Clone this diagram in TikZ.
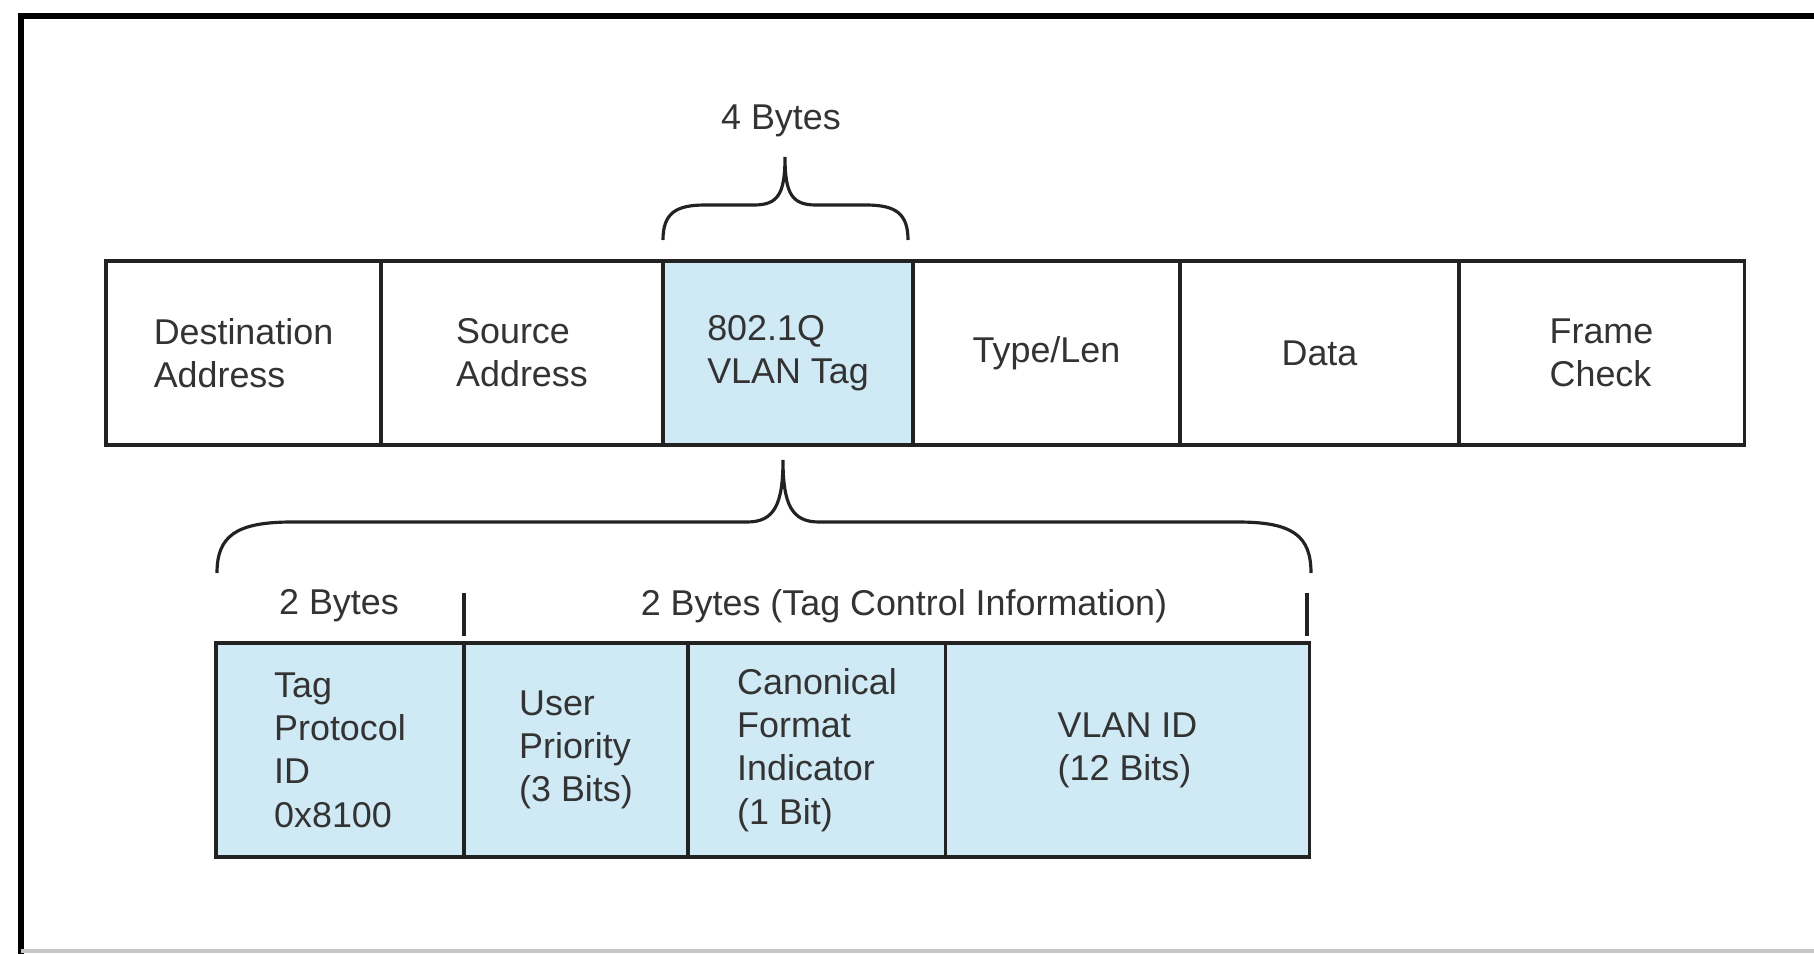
\documentclass[tikz,border=0pt]{standalone}
\usepackage{fontspec}
\setmainfont{Liberation Sans}
\usetikzlibrary{positioning}
\definecolor{tagblue}{HTML}{D0EAF5}
\definecolor{linegray}{HTML}{222222}

\begin{document}
\begin{tikzpicture}[x=0.01cm, y=-0.01cm,
    cell/.style={draw=linegray, line width=0.9pt, minimum height=1.84cm, inner sep=0pt,
      align=left, text=black!80, font=\fontsize{10.2}{12.3}\selectfont},
    subcell/.style={cell, fill=tagblue, minimum height=2.14cm},
    brace/.style={draw=linegray, line width=0.9pt},
    lbl/.style={text=black!80, font=\fontsize{10.2}{12.3}\selectfont}]
  \useasboundingbox (0,0) rectangle (1814,954);
  % outer frame
  \draw[line width=1.7pt] (21,954) -- (21,16) -- (1814,16);
  \draw[gray!45, line width=1.2pt] (21,951) -- (1814,951);
  % ethernet frame
  \node[cell, minimum width=2.75cm] (DA) at (243.5,353) {Destination\\Address};
  \node[cell, minimum width=2.82cm] (SA) at (522,353) {Source\\Address};
  \node[cell, minimum width=2.50cm, fill=tagblue] (TAG) at (788,353) {802.1Q\\VLAN Tag};
  \node[cell, minimum width=2.67cm] (TL) at (1046.5,353) {Type/Len};
  \node[cell, minimum width=2.79cm] (DT) at (1319.5,353) {Data};
  \node[cell, minimum width=2.85cm] (FC) at (1601.5,353) {Frame\\Check};
  % tag fields
  \node[subcell, minimum width=2.48cm] (TPID) at (340,750) {Tag\\Protocol\\ID\\0x8100};
  \node[subcell, minimum width=2.24cm] (UP) at (576,750) {User\\Priority\\(3 Bits)};
  \node[subcell, minimum width=2.58cm] (CFI) at (817,750) {Canonical\\Format\\Indicator\\(1 Bit)};
  \node[subcell, minimum width=3.63cm] (VID) at (1127.5,750) {VLAN ID\\(12 Bits)};
  % braces
  \coordinate (TT) at (785,157);
  \coordinate (BT) at (783,460);
  \node[lbl] (FB) at (781,121) {4 Bytes};
  \draw[brace] (663,240) .. controls (663,213) and (676,205) .. (705,205) -- (754,205)
    .. controls (778,205) and (785,194) .. (TT)
    .. controls (785,194) and (792,205) .. (816,205) -- (866,205)
    .. controls (895,205) and (908,213) .. (908,240);
  \draw[brace] (217,573) .. controls (217,536) and (236,522) .. (292,522) -- (747,522)
    .. controls (774,522) and (783,505) .. (BT)
    .. controls (783,505) and (792,522) .. (819,522) -- (1238,522)
    .. controls (1293,522) and (1311,536) .. (1311,573);
  % byte counts
  \node[lbl] (TB) at (339,606) {2 Bytes};
  \node[lbl] (CB) at (904,606) {2 Bytes (Tag Control Information)};
  \draw[brace] (464,593) -- (464,636);
  \draw[brace] (1307,593) -- (1307,636);
\end{tikzpicture}
\end{document}
